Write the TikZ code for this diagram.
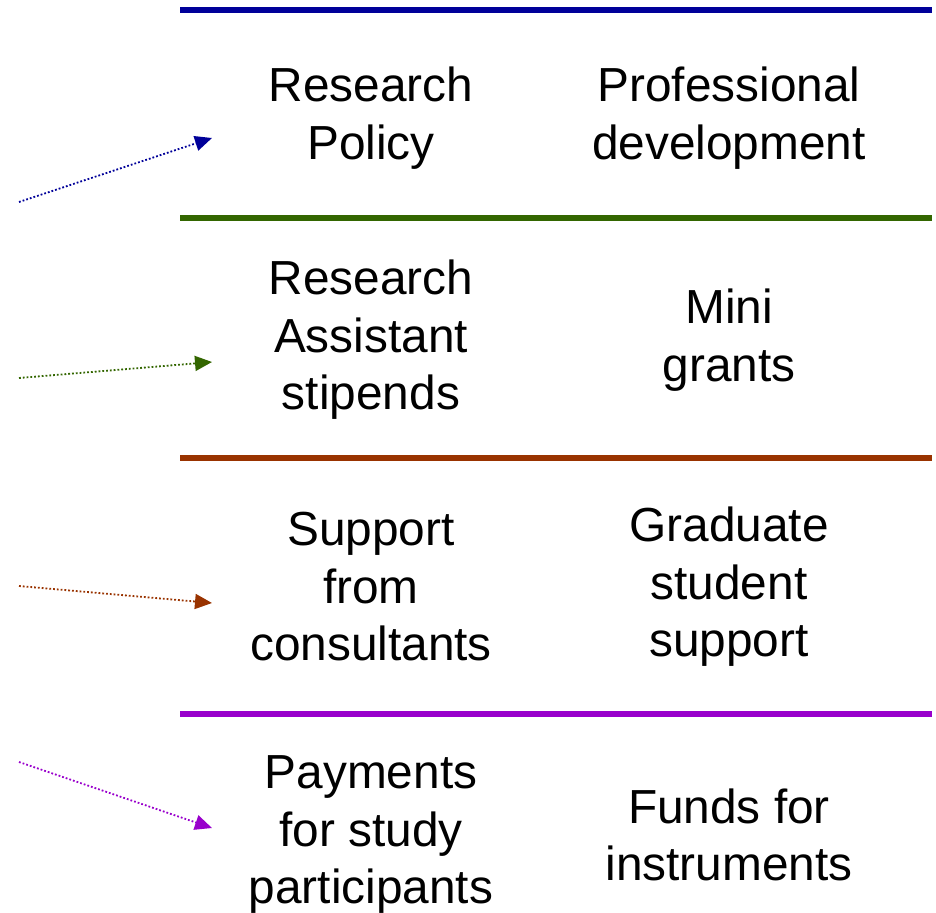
\documentclass[tikz,border=0pt]{standalone}
\usepackage{fontspec}
\setmainfont{Liberation Sans}
\usetikzlibrary{arrows.meta}
\definecolor{bandblue}{HTML}{000099}
\definecolor{bandgreen}{HTML}{336600}
\definecolor{bandbrown}{HTML}{993300}
\definecolor{bandpurple}{HTML}{9900CC}
\begin{document}
\begin{tikzpicture}[x=1pt,y=-1pt,
  rule/.style={line width=6pt},
  item/.style={align=center,inner sep=0pt,font=\fontsize{47.8}{57.5}\selectfont},
  pointer/.style={dotted,line width=1.8pt,-{Triangle[length=17pt,width=15pt]}}]
\useasboundingbox (0,0) rectangle (936,912);
% coloured separators
\draw[rule,bandblue]   (180,10)  coordinate (r1a) -- (932,10)  coordinate (r1b);
\draw[rule,bandgreen]  (180,218) coordinate (r2a) -- (932,218) coordinate (r2b);
\draw[rule,bandbrown]  (180,458) coordinate (r3a) -- (932,458) coordinate (r3b);
\draw[rule,bandpurple] (180,714) coordinate (r4a) -- (932,714) coordinate (r4b);
% support items
\node[item] (rp)  at (371,118) {Research\\Policy};
\node[item] (pd)  at (729,118) {Professional\\development};
\node[item] (ra)  at (371,340) {Research\\Assistant\\stipends};
\node[item] (mg)  at (729,340) {Mini\\grants};
\node[item] (sc)  at (371,587) {Support\\from\\consultants};
\node[item] (gs)  at (729,587) {Graduate\\student\\support};
\node[item] (pp)  at (371,835) {Payments\\for study\\participants};
\node[item] (fi)  at (729,835) {Funds for\\instruments};
% pointers
\coordinate (s1) at (19,202);  \coordinate (t1) at (212,138);
\coordinate (s2) at (19,378);  \coordinate (t2) at (212,362);
\coordinate (s3) at (19,586);  \coordinate (t3) at (212,603);
\coordinate (s4) at (19,762);  \coordinate (t4) at (212,828);
\draw[pointer,bandblue]   (s1) -- (t1);
\draw[pointer,bandgreen]  (s2) -- (t2);
\draw[pointer,bandbrown]  (s3) -- (t3);
\draw[pointer,bandpurple] (s4) -- (t4);
\end{tikzpicture}
\end{document}
